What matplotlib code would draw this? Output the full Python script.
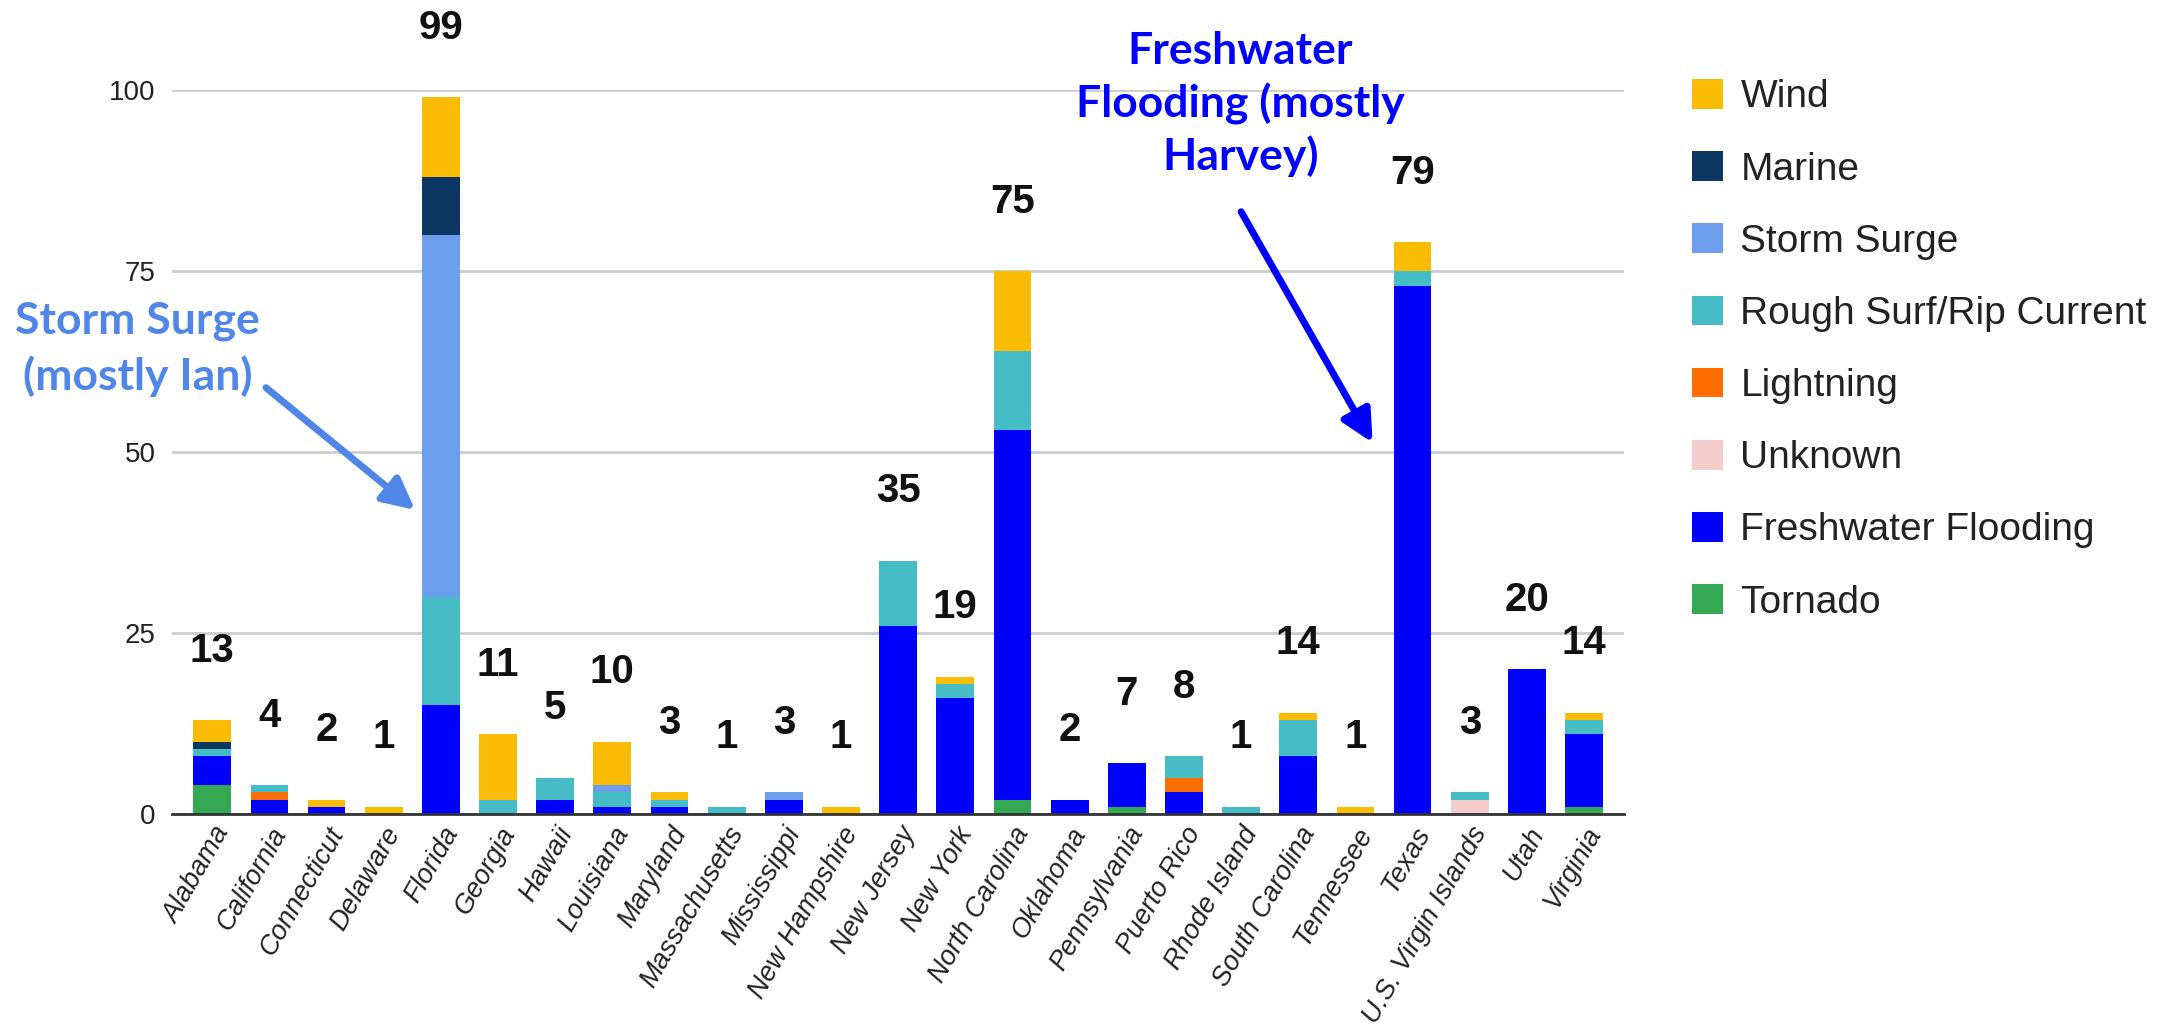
import matplotlib
matplotlib.use("Agg")
import matplotlib.pyplot as plt
import numpy as np
from matplotlib.patches import Patch

# States on the x axis
states = ["Alabama", "California", "Connecticut", "Delaware", "Florida",
          "Georgia", "Hawaii", "Louisiana", "Maryland", "Massachusetts",
          "Mississippi", "New Hampshire", "New Jersey", "New York",
          "North Carolina", "Oklahoma", "Pennsylvania", "Puerto Rico",
          "Rhode Island", "South Carolina", "Tennessee", "Texas",
          "U.S. Virgin Islands", "Utah", "Virginia"]

# Deaths per cause (stacked bottom -> top)
tornado =    [4, 0, 0, 0, 0, 0, 0, 0, 0, 0, 0, 0, 0, 0, 2, 0, 1, 0, 0, 0, 0, 0, 0, 0, 1]
freshwater = [4, 2, 1, 0, 15, 0, 2, 1, 1, 0, 2, 0, 26, 16, 51, 2, 6, 3, 0, 8, 0, 73, 0, 20, 10]
unknown =    [0, 0, 0, 0, 0, 0, 0, 0, 0, 0, 0, 0, 0, 0, 0, 0, 0, 0, 0, 0, 0, 0, 2, 0, 0]
lightning =  [0, 1, 0, 0, 0, 0, 0, 0, 0, 0, 0, 0, 0, 0, 0, 0, 0, 2, 0, 0, 0, 0, 0, 0, 0]
rough_surf = [1, 1, 0, 0, 15, 2, 3, 2, 1, 1, 0, 0, 9, 2, 11, 0, 0, 3, 1, 5, 0, 2, 1, 0, 2]
storm_surge = [0, 0, 0, 0, 50, 0, 0, 1, 0, 0, 1, 0, 0, 0, 0, 0, 0, 0, 0, 0, 0, 0, 0, 0, 0]
marine =     [1, 0, 0, 0, 8, 0, 0, 0, 0, 0, 0, 0, 0, 0, 0, 0, 0, 0, 0, 0, 0, 0, 0, 0, 0]
wind =       [3, 0, 1, 1, 11, 9, 0, 6, 1, 0, 0, 1, 0, 1, 11, 0, 0, 0, 0, 1, 1, 4, 0, 0, 1]

series = [
    ("Tornado", tornado, "#34A853"),
    ("Freshwater Flooding", freshwater, "#0000FF"),
    ("Unknown", unknown, "#F4CCCC"),
    ("Lightning", lightning, "#FF6D01"),
    ("Rough Surf/Rip Current", rough_surf, "#46BDC6"),
    ("Storm Surge", storm_surge, "#6D9EEB"),
    ("Marine", marine, "#0B3762"),
    ("Wind", wind, "#FBBC04"),
]

plt.rcParams["font.family"] = ["Liberation Sans", "DejaVu Sans"]

fig = plt.figure(figsize=(21.8, 10.24), dpi=100)
ax = fig.add_axes([0.079, 0.205, 0.666, 0.707])

x = np.arange(len(states))
bottom = np.zeros(len(states))
for name, vals, color in series:
    ax.bar(x, vals, width=0.66, bottom=bottom, color=color, label=name, zorder=3)
    bottom += np.array(vals)

# Total labels above bars
for xi, total in zip(x, bottom):
    ax.annotate(f"{int(total)}", (xi, total), xytext=(0, 50),
                textcoords="offset points", ha="center", va="center",
                fontsize=29, fontweight="bold", color="#111111",
                annotation_clip=False)

ax.set_xlim(-0.70, len(states) - 0.30)
ax.set_ylim(0, 100)
ax.set_yticks([0, 25, 50, 75, 100])
ax.grid(axis="y", color="#CCCCCC", linewidth=2, zorder=0)
ax.set_axisbelow(True)
for s in ["left", "right", "top"]:
    ax.spines[s].set_visible(False)
ax.spines["bottom"].set_color("#333333")
ax.spines["bottom"].set_linewidth(2)
ax.spines["bottom"].set_zorder(4)
ax.tick_params(axis="y", length=0, pad=12, labelsize=20, labelcolor="#222222")
ax.tick_params(axis="x", length=0, pad=6)
ax.set_xticks(x)
ax.set_xticklabels(states, rotation=60, ha="right", rotation_mode="anchor",
                   fontsize=19.5, color="#222222", style="italic")

# Callouts, one text per line
storm_color = "#4F86E8"
for line, yy in [("Storm Surge", 66.4), ("(mostly Ian)", 58.6)]:
    ax.text(-1.31, yy, line, ha="center", va="baseline", fontsize=32,
            fontweight="bold", color=storm_color, family="Lato")
ax.annotate("", xy=(3.55, 42), xytext=(0.94, 58.9),
            arrowprops=dict(arrowstyle="-|>", lw=5, color=storm_color,
                            mutation_scale=48, shrinkA=0, shrinkB=0),
            annotation_clip=False)

for line, yy in [("Freshwater", 103.6), ("Flooding (mostly", 96.2), ("Harvey)", 89.0)]:
    ax.text(17.99, yy, line, ha="center", va="baseline", fontsize=32,
            fontweight="bold", color="#0000FF", family="Lato")
ax.annotate("", xy=(20.3, 51.3), xytext=(18.0, 83.2),
            arrowprops=dict(arrowstyle="-|>", lw=5, color="#0000FF",
                            mutation_scale=48, shrinkA=0, shrinkB=0),
            annotation_clip=False)

# Legend (Wind on top)
handles = [Patch(facecolor=c, label=n) for n, _, c in reversed(series)]
fig.legend(handles=handles, loc="upper left", bbox_to_anchor=(0.760, 0.957),
           frameon=False, fontsize=28, labelspacing=0.92, handlelength=0.8,
           handleheight=0.8, handletextpad=0.45, labelcolor="#222222")

fig.savefig("out.png", dpi=100, facecolor="white")
